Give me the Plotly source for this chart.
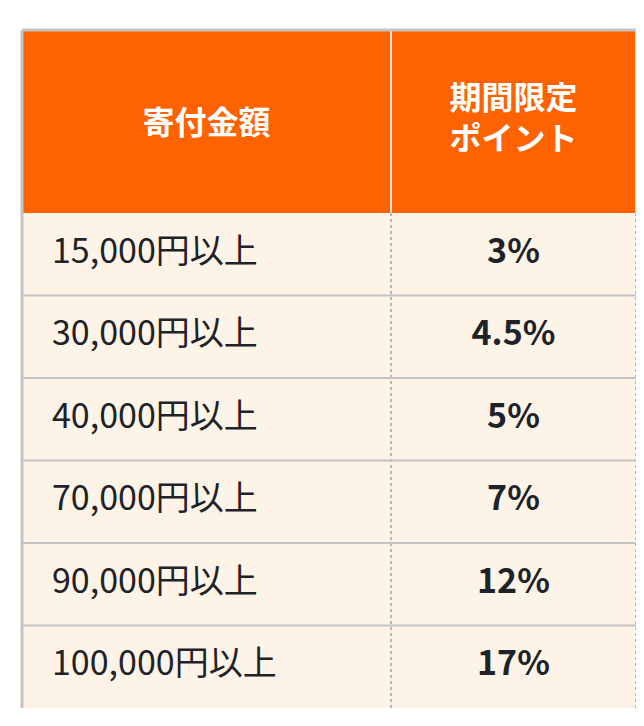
import plotly.graph_objects as go

header_labels = ["<b>寄付金額</b>", "<b>期間限定<br>ポイント</b>"]
amounts = ["15,000円以上", "30,000円以上", "40,000円以上", "70,000円以上", "90,000円以上", "100,000円以上"]
points = ["3%", "4.5%", "5%", "7%", "12%", "17%"]

orange = "#FF6200"
cream = "#FDF4E7"
ink = "#1E2229"
grid = "#C4C4C4"
font = "Noto Sans CJK JP"

# column edges and row geometry (pixel-like axis units)
col_edges = [14, 383, 628, 660]
head_top, head_bot = 22, 205
row_h = 82.5
n = len(amounts)
body_bot = head_bot + row_h * n

shapes = []
# header fill and body fill
shapes.append(dict(type="rect", x0=col_edges[0], x1=col_edges[-1], y0=head_top, y1=head_bot,
                   fillcolor=orange, line_width=0, layer="below"))
shapes.append(dict(type="rect", x0=col_edges[0], x1=col_edges[-1], y0=head_bot, y1=body_bot,
                   fillcolor=cream, line_width=0, layer="below"))
# header separators
for x in col_edges[1:3]:
    shapes.append(dict(type="line", x0=x, x1=x, y0=head_top, y1=head_bot,
                       line=dict(color="#FBE3CF", width=2)))
# body dotted separators
for x in col_edges[1:3]:
    shapes.append(dict(type="line", x0=x, x1=x, y0=head_bot, y1=body_bot,
                       line=dict(color="#B8B8B8", width=2, dash="dot")))
# row lines
for i in range(1, n):
    y = head_bot + row_h * i
    shapes.append(dict(type="line", x0=col_edges[0], x1=col_edges[-1], y0=y, y1=y,
                       line=dict(color=grid, width=2)))
# outer border
shapes.append(dict(type="line", x0=col_edges[0], x1=col_edges[-1], y0=head_top, y1=head_top,
                   line=dict(color=grid, width=3)))
shapes.append(dict(type="line", x0=col_edges[0], x1=col_edges[0], y0=head_top, y1=body_bot,
                   line=dict(color=grid, width=3)))

row_centers = [head_bot + row_h * (i + 0.5) for i in range(n)]
head_center = (head_top + head_bot) / 2

fig = go.Figure()
fig.add_trace(go.Scatter(
    x=[(col_edges[0] + col_edges[1]) / 2, (col_edges[1] + col_edges[2]) / 2],
    y=[head_center + 4, head_center],
    mode="text", text=header_labels,
    textfont=dict(color="white", size=32, family=font),
    hoverinfo="skip",
))
fig.add_trace(go.Scatter(
    x=[col_edges[0] + 30] * n, y=row_centers,
    mode="text", text=amounts, textposition="middle right",
    textfont=dict(color=ink, size=34, family=font),
    hoverinfo="skip",
))
fig.add_trace(go.Scatter(
    x=[(col_edges[1] + col_edges[2]) / 2] * n, y=row_centers,
    mode="text", text=["<b>" + p + "</b>" for p in points],
    textfont=dict(color=ink, size=34, family=font),
    hoverinfo="skip",
))

fig.update_layout(
    width=644, height=726,
    margin=dict(l=0, r=0, t=0, b=0),
    paper_bgcolor="white", plot_bgcolor="white",
    showlegend=False,
    shapes=shapes,
    xaxis=dict(range=[0, 644], visible=False, fixedrange=True),
    yaxis=dict(range=[726, 0], visible=False, fixedrange=True),
)
fig.write_html("out.html")
